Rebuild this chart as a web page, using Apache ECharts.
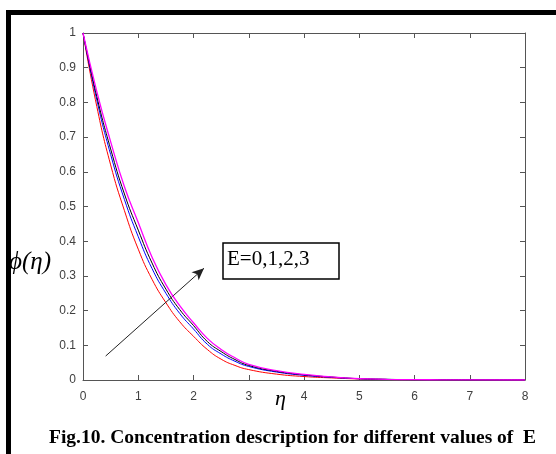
<!DOCTYPE html>
<html>
<head>
<meta charset="utf-8">
<script src="https://cdn.jsdelivr.net/npm/echarts@6/dist/echarts.min.js"></script>
<style>
html,body{margin:0;padding:0;background:#fff;}
#c{width:556px;height:454px;}
</style>
</head>
<body>
<div id="c"></div>
<script>
// ---- data ----
var eta = [0, 0.25, 0.5, 0.75, 1, 1.25, 1.5, 1.75, 2, 2.25, 2.5, 2.75, 3, 3.5, 4, 4.5, 5, 5.5, 6, 6.5, 7, 8];
var phiE0 = [1, 0.788, 0.620, 0.488, 0.377, 0.290, 0.223, 0.168, 0.126, 0.088, 0.060, 0.042, 0.030, 0.017, 0.010, 0.006, 0.003, 0.0015, 0.0007, 0.0003, 0.0001, 0];
var phiE1 = [1, 0.807, 0.650, 0.520, 0.413, 0.321, 0.250, 0.192, 0.147, 0.103, 0.075, 0.054, 0.039, 0.023, 0.0135, 0.0076, 0.0036, 0.0018, 0.0008, 0.0004, 0.00015, 0];
var phiE2 = [1, 0.817, 0.666, 0.536, 0.432, 0.337, 0.262, 0.203, 0.157, 0.111, 0.082, 0.059, 0.042, 0.025, 0.015, 0.0085, 0.0038, 0.0019, 0.0009, 0.00045, 0.00018, 0];
var phiE3 = [1, 0.831, 0.687, 0.557, 0.454, 0.354, 0.275, 0.214, 0.165, 0.120, 0.088, 0.064, 0.045, 0.027, 0.016, 0.009, 0.004, 0.002, 0.001, 0.0005, 0.0002, 0];
var seriesNames = ['E=0', 'E=1', 'E=2', 'E=3'];
var seriesColors = ['#ff0000', '#0000ff', '#000000', '#ff00ff'];
var arrowStart = [0.41, 0.069];
var arrowEnd = [2.19, 0.322];
var annotationText = 'E=0,1,2,3';
var xLabel = 'η';
var yLabel = 'ϕ(η)';
var caption = 'Fig.10. Concentration description for different values of  E';

function pairs(ys){ return eta.map(function(x,i){ return [x, ys[i]]; }); }
var allY = [phiE0, phiE1, phiE2, phiE3];

var axisCol = '#555555';
var labelCol = '#404040';

var series = allY.map(function(ys, i){
  var s = {
    name: seriesNames[i], type: 'line', data: pairs(ys), smooth: 0.5,
    xAxisIndex: 0, yAxisIndex: 0,
    showSymbol: false, symbol: 'none',
    lineStyle: {color: seriesColors[i], width: i === 3 ? 1.3 : 1},
    itemStyle: {color: seriesColors[i]},
    silent: true, z: 2 + i
  };
  if (i === 0) {
    s.markLine = {
      silent: true, symbol: ['none', 'arrow'], symbolSize: [8, 12],
      label: {show: false},
      lineStyle: {color: '#222', width: 1, type: 'solid'},
      data: [[{coord: arrowStart}, {coord: arrowEnd}]]
    };
  }
  return s;
});
// empty helper series so the mirrored top/right axes are drawn
series.push({type: 'line', xAxisIndex: 1, yAxisIndex: 1, data: [], silent: true});

function tick(){ return {show: true, inside: true, length: 5, lineStyle: {color: axisCol, width: 1}}; }

var chart = echarts.init(document.getElementById('c'), null, {renderer: 'canvas'});
chart.setOption({
  backgroundColor: '#fff',
  animation: false,
  grid: {left: 83, top: 33, right: 31, bottom: 74, containLabel: false},
  xAxis: [{
    type: 'value', min: 0, max: 8, interval: 1, position: 'bottom',
    axisLine: {show: true, onZero: false, lineStyle: {color: axisCol, width: 1}},
    axisTick: tick(),
    axisLabel: {color: labelCol, fontSize: 12, fontFamily: 'Liberation Sans, Arial', margin: 11},
    splitLine: {show: false}
  }, {
    type: 'value', min: 0, max: 8, interval: 1, position: 'top',
    axisLine: {show: true, onZero: false, lineStyle: {color: axisCol, width: 1}},
    axisTick: tick(),
    axisLabel: {show: false}, splitLine: {show: false}
  }],
  yAxis: [{
    type: 'value', min: 0, max: 1, interval: 0.1, position: 'left',
    axisLine: {show: true, onZero: false, lineStyle: {color: axisCol, width: 1}},
    axisTick: tick(),
    axisLabel: {color: labelCol, fontSize: 12, fontFamily: 'Liberation Sans, Arial', margin: 7},
    splitLine: {show: false}
  }, {
    type: 'value', min: 0, max: 1, interval: 0.1, position: 'right',
    axisLine: {show: true, onZero: false, lineStyle: {color: axisCol, width: 1}},
    axisTick: tick(),
    axisLabel: {show: false}, splitLine: {show: false}
  }],
  series: series,
  graphic: [
    {type: 'rect', shape: {x: 6, y: 10, width: 550, height: 5}, style: {fill: '#000'}, silent: true},
    {type: 'rect', shape: {x: 6, y: 10, width: 5, height: 444}, style: {fill: '#000'}, silent: true},
    {type: 'rect', shape: {x: 223, y: 243, width: 116, height: 36}, style: {fill: '#fff', stroke: '#000', lineWidth: 1.5}, z: 100},
    {type: 'text', left: 227, top: 249, z: 101,
      style: {text: annotationText, font: '21px "Liberation Serif", "Times New Roman", serif', fill: '#000'}},
    {type: 'text', left: 9, top: 250, z: 101,
      style: {text: yLabel, font: 'italic 25px "Liberation Serif", "DejaVu Serif", serif', fill: '#000'}},
    {type: 'text', left: 275, top: 388, z: 101,
      style: {text: xLabel, font: 'italic 22px "Liberation Serif", "Times New Roman", serif', fill: '#000'}},
    {type: 'text', left: 49, top: 428, z: 101,
      style: {text: caption, font: 'bold 19.5px "Liberation Serif", "Times New Roman", serif', fill: '#000'}}
  ]
});
</script>
</body>
</html>
